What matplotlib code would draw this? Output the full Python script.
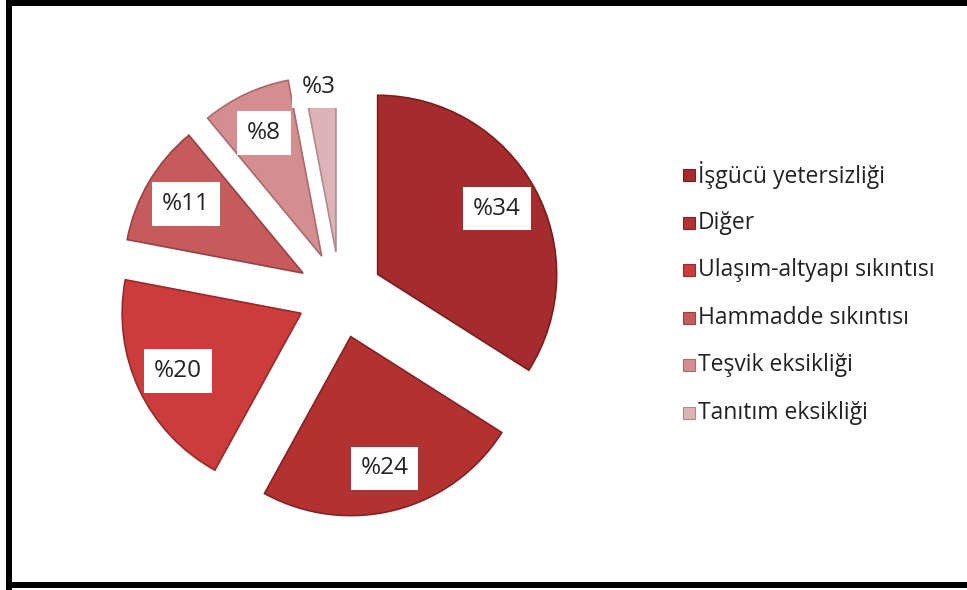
import matplotlib
matplotlib.use("Agg")
import matplotlib.pyplot as plt
from matplotlib.patches import Rectangle

categories = ["İşgücü yetersizliği", "Diğer", "Ulaşım-altyapı sıkıntısı",
              "Hammadde sıkıntısı", "Teşvik eksikliği", "Tanıtım eksikliği"]
values = [34, 24, 20, 11, 8, 3]
colors = ["#A52B2C", "#B23232", "#CC3C3D", "#C75B5C", "#D58E8F", "#DEB3B5"]
edge_colors = ["#7A1D1E", "#842223", "#952A2A", "#944244", "#A86A6B", "#B08A8C"]

plt.rcParams['font.family'] = ['Open Sans', 'DejaVu Sans']

W, H = 967, 590
fig = plt.figure(figsize=(W / 100, H / 100), dpi=100)

# pie axes: center at (340, 295) px, radius 179 px
R = 179.0
cx, cy = 340, 295
ax_w, ax_h = 600, 560
ax = fig.add_axes([(cx - ax_w / 2) / W, (H - cy - ax_h / 2) / H, ax_w / W, ax_h / H])

wedges, texts, autotexts = ax.pie(
    values, explode=[0.24] * len(values), startangle=90, counterclock=False,
    colors=colors, autopct=lambda p: f"%{p:.0f}", pctdistance=0.76,
    wedgeprops=dict(linewidth=1.2), textprops=dict(fontsize=17.5, color="#222222"),
    radius=1.0)
ax.set_xlim(-ax_w / 2 / R, ax_w / 2 / R)
ax.set_ylim(-ax_h / 2 / R, ax_h / 2 / R)
ax.set_aspect('equal')
ax.axis('off')

for w, ec in zip(wedges, edge_colors):
    w.set_edgecolor(ec)
for t in autotexts:
    t.set_bbox(dict(facecolor="white", edgecolor="none", boxstyle="square,pad=0.4"))
# smallest slice label sits further out
x, y = autotexts[-1].get_position()
autotexts[-1].set_position((x * 1.25, y * 1.25 - 0.08))

# legend
lx, ly0, dy = 683, 175, 47.6
for i, (lab, c, ec) in enumerate(zip(categories, colors, edge_colors)):
    y = ly0 + i * dy
    fig.patches.append(Rectangle(((lx) / W, (H - y - 6) / H), 12 / W, 12 / H,
                                 transform=fig.transFigure, facecolor=c,
                                 edgecolor=ec, linewidth=0.8))
    fig.text((lx + 15) / W, (H - y) / H, lab, fontsize=16.5, color="#222222",
             va="center", ha="left")

# black frame
frame_kw = dict(transform=fig.transFigure, facecolor="black", edgecolor="none")
fig.patches.append(Rectangle((6 / W, 0), 6 / W, 1, **frame_kw))
fig.patches.append(Rectangle((6 / W, (H - 6) / H), 1 - 6 / W, 6 / H, **frame_kw))
fig.patches.append(Rectangle((6 / W, 2 / H), 1 - 6 / W, 6 / H, **frame_kw))

fig.savefig("out.png", dpi=100)
